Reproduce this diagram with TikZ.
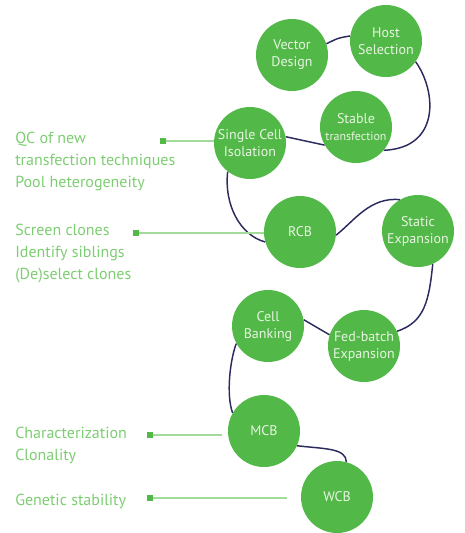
\documentclass[tikz,border=0pt]{standalone}
\usepackage{fontspec}
\setmainfont{PT Sans}
\usetikzlibrary{calc}
\definecolor{stagegreen}{HTML}{52B848}
\definecolor{notegreen}{HTML}{7DCD72}
\definecolor{leadgreen}{HTML}{A3DB9B}
\definecolor{linknavy}{HTML}{2B2B5E}
\definecolor{stagetext}{HTML}{E8F5E2}

\begin{document}
\begin{tikzpicture}[
  x=0.75pt, y=-0.75pt,
  stage/.style={circle, fill=stagegreen, text=stagetext, minimum size=54pt,
                inner sep=0pt, align=center, font=\fontsize{10.5}{12.75}\selectfont},
  note/.style={anchor=base west, inner sep=0pt, align=left, text=notegreen,
               font=\fontsize{12}{16.5}\selectfont},
  leaddot/.style={fill=stagegreen, minimum size=4.5pt, inner sep=0pt},
  link/.style={draw=linknavy, line width=1.1pt},
  lead/.style={draw=leadgreen, line width=1.5pt}
]
\useasboundingbox (0,0) rectangle (465,533);

% stages
\node[stage] (vector) at (292,55) {Vector\\Design};
\node[stage] (host) at (386,41) {Host\\Selection};
\node[stage] (stable) at (356,127) {Stable\\{\fontsize{9}{11}\selectfont transfection}};
\node[stage] (single) at (250,143) {Single Cell\\Isolation};
\node[stage] (rcb) at (300,232) {RCB};
\node[stage] (static) at (418,231) {Static\\Expansion};
\node[stage] (banking) at (268,326) {Cell\\Banking};
\node[stage] (fedbatch) at (364,346) {Fed-batch\\Expansion};
\node[stage] (mcb) at (264,431) {MCB};
\node[stage] (wcb) at (337,497) {WCB};

% path through the stages
\draw[link] (vector.18) .. controls (338,38) .. (host.172);
\draw[link] (host.-35) .. controls (437,92) and (440,148) .. (stable.-40);
\draw[link] (single.10) -- (stable.210);
\draw[link] (single.232) .. controls (224,205) and (240,235) .. (rcb.196);
\draw[link] (rcb.-5) .. controls (355,220) and (370,197) .. (static.120);
\draw[link] (static.-66) .. controls (429,300) and (425,322) .. (fedbatch.24);
\draw[link] (banking.10) -- (fedbatch.162);
\draw[link] (banking.209) .. controls (230,360) and (226,395) .. (mcb.150);
\draw[link] (mcb.-24) .. controls (325,449) and (346,448) .. (wcb.75);

% notes (anchored on the last line)
\node[note] (qcnote) at (15,187) {QC of new\\transfection techniques\\Pool heterogeneity};
\node[note] (screennote) at (15,279) {Screen clones\\Identify siblings\\(De)select clones};
\node[note] (charnote) at (15,460) {Characterization\\Clonality};
\node[note] (gennote) at (15,505) {Genetic stability};

\node[leaddot] (qcdot) at (163,141) {};
\node[leaddot] (screendot) at (136,233) {};
\node[leaddot] (chardot) at (150,435) {};
\node[leaddot] (gendot) at (150,498) {};

\draw[lead] (qcdot) -- (qcdot -| single.west);
\draw[lead] (screendot) -- (screendot -| rcb.west);
\draw[lead, shorten >=4.5pt] (chardot) -- (chardot -| mcb.west);
\draw[lead, shorten >=10.5pt] (gendot) -- (gendot -| wcb.west);
\end{tikzpicture}
\end{document}
